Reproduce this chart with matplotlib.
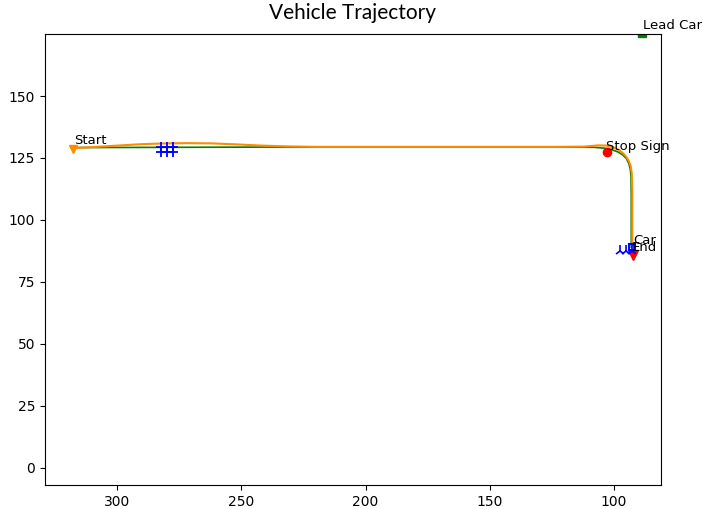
import matplotlib
matplotlib.use("Agg")
import matplotlib.pyplot as plt

# planned route (green) and driven trajectory (orange)
path_x = [318, 280, 240, 200, 160, 120, 108, 104, 101, 98.5, 96.5, 95.0, 94.0, 93.4, 93.1, 93.0, 93.0, 93.0]
path_y = [129.2, 129.3, 129.4, 129.4, 129.4, 129.4, 129.3, 129.0, 128.4, 127.5, 126.3, 124.8, 122.8, 120.5, 117.5, 110.0, 100.0, 89.0]

traj_x = [318, 310, 300, 290, 280, 272, 262, 252, 242, 232, 220, 200, 175, 150, 125, 112, 106, 103, 100.5, 98.3, 96.5, 95.1, 94.0, 93.2, 92.8, 92.6, 92.6, 92.6]
traj_y = [129.0, 129.4, 130.0, 130.6, 130.9, 131.0, 130.9, 130.5, 130.0, 129.7, 129.5, 129.5, 129.5, 129.5, 129.5, 129.6, 130.1, 130.0, 129.4, 128.4, 127.1, 125.6, 123.8, 121.6, 118.8, 112.0, 100.0, 89.8]

# points of interest
start_xy = (318, 128.6)
stop_xy = (102.8, 127.4)
lead_xy = (88.5, 175.5)
car_xy = (92.7, 88.9)
end_xy = (92.4, 85.8)

# obstacle points near x=280 and car footprint
obst_x = [282.5, 280.0, 277.5, 282.5, 280.0, 277.5]
obst_y = [129.6, 129.6, 129.6, 127.4, 127.4, 127.4]
foot_x = [97.5, 95.1, 92.7]
foot_y = [87.4, 87.4, 87.4]

fig = plt.figure(figsize=(7.03, 5.09), dpi=100)
ax = fig.add_axes([0.064, 0.047, 0.876, 0.886])

ax.plot(path_x, path_y, color="green", linewidth=1.2)
ax.plot(traj_x, traj_y, color="darkorange", linewidth=1.5)

ax.plot(obst_x, obst_y, "b+", markersize=7, markeredgewidth=1.3)
ax.plot(*start_xy, "v", color="darkorange", markersize=6)
ax.plot(*stop_xy, "o", color="red", markersize=6)
ax.plot(*lead_xy, "s", color="green", markersize=6)
ax.plot(*end_xy, "v", color="red", markersize=7)
ax.plot(foot_x, foot_y, "2", color="blue", markersize=8, markeredgewidth=1.2)
ax.plot(*car_xy, "s", color="blue", markersize=5, fillstyle="none", markeredgewidth=1.5)

ax.text(317.5, 130.6, "Start", fontsize=9.5)
ax.text(103.2, 128.2, "Stop Sign", fontsize=9.5)
ax.text(88.3, 177.0, "Lead Car", fontsize=9.5)
ax.text(92.3, 90.3, "Car", fontsize=9.5)
ax.text(92.7, 87.3, "End", fontsize=9.5)

ax.set_xlim(329.1, 81.1)
ax.set_ylim(-7, 175)
ax.set_xticks([300, 250, 200, 150, 100])
ax.set_yticks([0, 25, 50, 75, 100, 125, 150])
ax.set_title("Vehicle Trajectory", fontsize=15, family=["Lato", "DejaVu Sans"], pad=11)

fig.savefig("out.png", dpi=100)
